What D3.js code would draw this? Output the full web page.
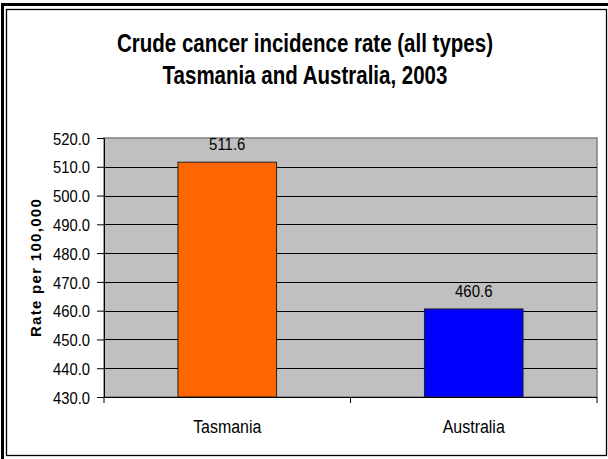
<!DOCTYPE html>
<html>
<head>
<meta charset="utf-8">
<script src="https://cdn.jsdelivr.net/npm/d3@7"></script>
<style>
  body { margin: 0; background: #fff; }
  svg { display: block; }
  text { font-family: "Liberation Sans", Arial, sans-serif; }
</style>
</head>
<body>
<div id="chart"></div>
<script>
// chart data
var categories = ["Tasmania", "Australia"]
var rates = [511.6, 460.6]
var barColors = ["#ff6600", "#0000ff"]
var yTicks = [430, 440, 450, 460, 470, 480, 490, 500, 510, 520]
var titleLines = ["Crude cancer incidence rate (all types)", "Tasmania and Australia, 2003"]
var yTitle = "Rate per 100,000"

var W = 608, H = 459
var plot = {left: 104, right: 597, top: 138, bottom: 397}

// no narrow font installed, so squeeze text horizontally
function narrow(cx, cy, sx) {
  return "translate(" + cx + "," + cy + ") scale(" + sx + ",1)"
}

var svg = d3.select("#chart")
  .append("svg")
    .attr("width", W)
    .attr("height", H)

// outer frame (double line, outer one cut off at right/bottom)
svg.append("rect")
  .attr("x", 2.5).attr("y", 4.5)
  .attr("width", 640).attr("height", 480)
  .attr("fill", "none").attr("stroke", "#000").attr("stroke-width", 3)
svg.append("rect")
  .attr("x", 6.5).attr("y", 9.5)
  .attr("width", 600).attr("height", 446)
  .attr("fill", "#fff").attr("stroke", "#000").attr("stroke-width", 1.3)

// title
var title = svg.append("text")
  .attr("transform", narrow(305, 0, 0.82))
  .attr("text-anchor", "middle")
  .style("font-weight", "bold")
  .style("font-size", "25px")
  .attr("fill", "#000")
title.selectAll("tspan")
  .data(titleLines)
  .enter()
  .append("tspan")
    .attr("x", 0)
    .attr("y", function(d, i) { return 52 + i * 31.6 })
    .text(function(d) { return d })

// scales
var x = d3.scaleBand()
  .domain(categories)
  .range([plot.left, plot.right])
  .paddingInner(0.6)
  .paddingOuter(0.3)

var y = d3.scaleLinear()
  .domain([430, 520])
  .range([plot.bottom, plot.top])

// plot area background
svg.append("rect")
  .attr("x", plot.left).attr("y", plot.top)
  .attr("width", plot.right - plot.left).attr("height", plot.bottom - plot.top)
  .attr("fill", "#c0c0c0")
  .attr("stroke", "#808080").attr("stroke-width", 1.5)

// gridlines
svg.append("g")
  .selectAll("line")
  .data(yTicks.filter(function(t) { return t > 430 && t < 520 }))
  .enter()
  .append("line")
    .attr("x1", plot.left).attr("x2", plot.right)
    .attr("y1", function(d) { return Math.round(y(d)) + 0.5 })
    .attr("y2", function(d) { return Math.round(y(d)) + 0.5 })
    .attr("stroke", "#000").attr("stroke-width", 1)

// bars
svg.append("g")
  .selectAll("rect")
  .data(rates)
  .enter()
  .append("rect")
    .attr("x", function(d, i) { return x(categories[i]) })
    .attr("y", function(d) { return y(d) })
    .attr("width", x.bandwidth())
    .attr("height", function(d) { return plot.bottom - y(d) })
    .attr("fill", function(d, i) { return barColors[i] })
    .attr("stroke", "#222").attr("stroke-width", 1)

// value labels
svg.append("g")
  .selectAll("text")
  .data(rates)
  .enter()
  .append("text")
    .attr("transform", function(d, i) {
      return narrow(x(categories[i]) + x.bandwidth() / 2, y(d) - 12, 0.88)
    })
    .attr("text-anchor", "middle")
    .style("font-size", "17px")
    .attr("fill", "#000")
    .text(function(d) { return d.toFixed(1) })

// y axis
var yAxis = svg.append("g")
  .attr("transform", "translate(" + plot.left + ",0)")
  .call(d3.axisLeft(y).tickValues(yTicks).tickSize(7).tickPadding(7)
    .tickFormat(function(d) { return d.toFixed(1) }))
yAxis.attr("font-family", null)
yAxis.select(".domain").attr("stroke", "#000")
yAxis.selectAll("line").attr("stroke", "#000")
yAxis.selectAll(".tick text")
  .attr("transform", "scale(0.87,1)")
  .attr("x", -14 / 0.87)
  .attr("dy", "0.36em")
  .style("font-size", "17px")
  .attr("fill", "#000")

// x axis
var xAxis = svg.append("g")
  .attr("transform", "translate(0," + plot.bottom + ")")
xAxis.append("line")
  .attr("x1", plot.left).attr("x2", plot.right)
  .attr("y1", 0.5).attr("y2", 0.5)
  .attr("stroke", "#000")
xAxis.selectAll(".sep")
  .data([plot.left, x(categories[1]) - x.step() * x.paddingInner() / 2, plot.right])
  .enter()
  .append("line")
    .attr("x1", function(d) { return d }).attr("x2", function(d) { return d })
    .attr("y1", 0).attr("y2", 6)
    .attr("stroke", "#000")
xAxis.selectAll("text")
  .data(categories)
  .enter()
  .append("text")
    .attr("transform", function(d) { return narrow(x(d) + x.bandwidth() / 2, 36, 0.84) })
    .attr("text-anchor", "middle")
    .style("font-size", "19px")
    .attr("fill", "#000")
    .text(function(d) { return d })

// y axis title
svg.append("text")
  .attr("transform", "translate(41," + (plot.top + plot.bottom) / 2 + ") rotate(-90)")
  .attr("text-anchor", "middle")
  .style("font-weight", "bold")
  .style("font-size", "15px")
  .style("letter-spacing", "1.3px")
  .attr("fill", "#000")
  .text(yTitle)
</script>
</body>
</html>
